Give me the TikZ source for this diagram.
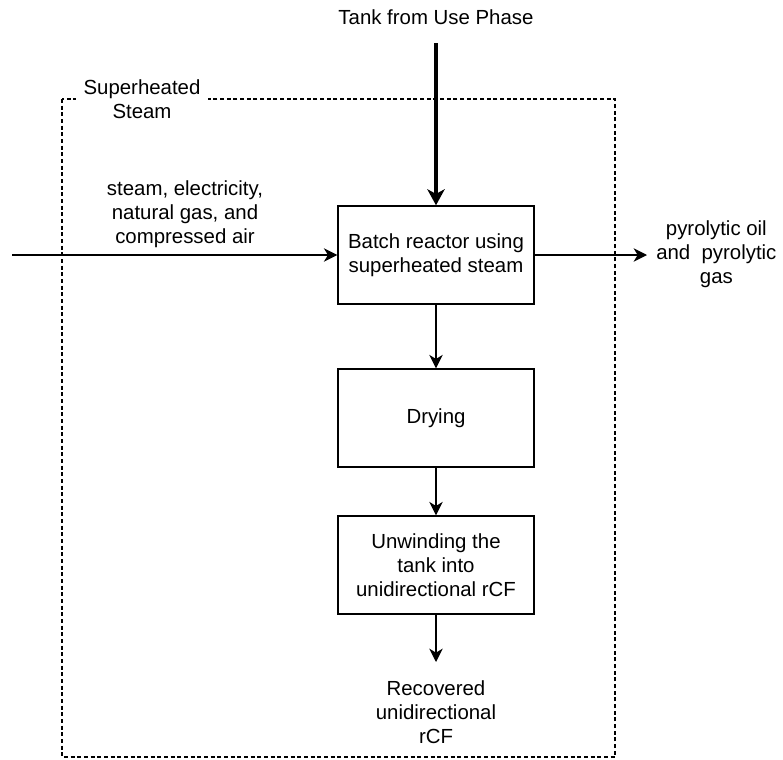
\documentclass[tikz,border=0pt]{standalone}
\usepackage{fontspec}
\setmainfont{Liberation Sans}
\usetikzlibrary{arrows.meta}
\begin{document}
\begin{tikzpicture}[x=0.75pt,y=-0.75pt,
  font=\fontsize{15.3}{18}\selectfont,
  process/.style={draw,line width=1.1pt,minimum width=147pt,minimum height=73.5pt,
    align=center,inner sep=2pt},
  label/.style={align=center,inner sep=0pt},
  flow/.style={line width=1.1pt,-{Stealth[length=10pt,width=10pt,inset=3pt]}},
  mainflow/.style={line width=2.6pt,-{Stealth[length=12pt,width=13pt,inset=3.5pt]}},
  boundary/.style={draw,line width=0.8pt,dash pattern=on 3pt off 2pt}]
\useasboundingbox (0,0) rectangle (783,760);

% system boundary
\draw[boundary] (62,99) rectangle (615,757);
\node[label,fill=white,inner xsep=5.5pt,inner ysep=1pt] (sys) at (142,99) {Superheated\\Steam};

% process steps
\node[process] (reactor) at (436,255) {Batch reactor using\\superheated steam};
\node[process] (dry) at (436,418) {Drying};
\node[process] (unwind) at (436,565) {Unwinding the\\tank into\\unidirectional rCF};

% inputs and outputs
\node[label] (tank) at (436,17) {Tank from Use Phase};
\coordinate (tankin) at (436,43);
\coordinate (utilin) at (12,255);
\node[label] (util) at (185,214) {steam, electricity,\\natural gas, and\\compressed air};
\coordinate (gasout) at (647,255);
\node[label,anchor=west] (gas) at (656,255) {\begin{tabular}{@{}c@{}}pyrolytic oil\\and\ \ pyrolytic\\gas\end{tabular}};
\coordinate (fibreout) at (436,662);
\node[label] (fibre) at (436,712) {Recovered\\unidirectional\\rCF};

% connectors
\draw[mainflow] (tankin) -- (reactor.north);
\draw[flow] (utilin) -- (reactor.west);
\draw[flow] (reactor.east) -- (gasout);
\draw[flow] (reactor) -- (dry);
\draw[flow] (dry) -- (unwind);
\draw[flow] (unwind.south) -- (fibreout);
\end{tikzpicture}
\end{document}
